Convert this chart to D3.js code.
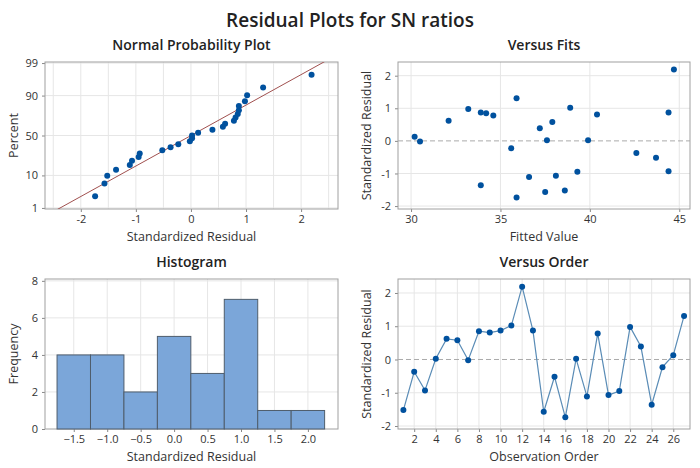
<!DOCTYPE html>
<html>
<head>
<meta charset="utf-8">
<script src="https://cdn.jsdelivr.net/npm/d3@7"></script>
<style>
  body { margin: 0; background: #fff; }
  text { font-family: "Open Sans", "Noto Sans", sans-serif; fill: #333; }
  .tick text { font-size: 11px; fill: #333; }
  .axis-title { font-size: 12.5px; fill: #333; }
  .panel-title { font-size: 14px; font-weight: 600; fill: #222; }
</style>
</head>
<body>
<div id="chart"></div>
<script>
// standardized residuals, in observation order 1..27
var residuals = [-1.52, -0.37, -0.93, 0.02, 0.62, 0.58, -0.02, 0.85, 0.81, 0.87,
                 1.02, 2.19, 0.87, -1.57, -0.52, -1.74, 0.02, -1.11, 0.78, -1.07,
                 -0.95, 0.98, 0.39, -1.36, -0.23, 0.13, 1.31];
// fitted values, same order
var fitted = [38.6, 42.6, 44.4, 37.6, 32.1, 37.9, 30.5, 34.2, 40.4, 44.4,
              38.9, 44.7, 33.9, 37.5, 43.7, 35.9, 39.9, 36.6, 34.6, 38.1,
              39.3, 33.2, 37.2, 33.9, 35.6, 30.2, 35.9];
var percentTicks = [1, 10, 50, 90, 99];
var histEdges = [-1.75, -1.25, -0.75, -0.25, 0.25, 0.75, 1.25, 1.75, 2.25];
var histTicks = [-1.5, -1.0, -0.5, 0.0, 0.5, 1.0, 1.5, 2.0];
var orderTicks = [2, 4, 6, 8, 10, 12, 14, 16, 18, 20, 22, 24, 26];

var svgWidth = 700;
var svgHeight = 468;
var dotColor = "#00519E";
var gridColor = "#e6e6e6";

var svg = d3.select("#chart")
    .append("svg")
    .attr("width", svgWidth)
    .attr("height", svgHeight);

// inverse normal cdf (Acklam)
function qnorm(p) {
    var a = [-3.969683028665376e+01, 2.209460984245205e+02, -2.759285104469687e+02, 1.383577518672690e+02, -3.066479806614716e+01, 2.506628277459239e+00];
    var b = [-5.447609879822406e+01, 1.615858368580409e+02, -1.556989798598866e+02, 6.680131188771972e+01, -1.328068155288572e+01];
    var c = [-7.784894002430293e-03, -3.223964580411365e-01, -2.400758277161838e+00, -2.549732539343734e+00, 4.374664141464968e+00, 2.938163982698783e+00];
    var d = [7.784695709041462e-03, 3.224671290700398e-01, 2.445134137142996e+00, 3.754408661907416e+00];
    var q, r;
    if (p < 0.02425) {
        q = Math.sqrt(-2 * Math.log(p));
        return (((((c[0]*q+c[1])*q+c[2])*q+c[3])*q+c[4])*q+c[5]) / ((((d[0]*q+d[1])*q+d[2])*q+d[3])*q+1);
    }
    if (p > 1 - 0.02425) {
        q = Math.sqrt(-2 * Math.log(1 - p));
        return -(((((c[0]*q+c[1])*q+c[2])*q+c[3])*q+c[4])*q+c[5]) / ((((d[0]*q+d[1])*q+d[2])*q+d[3])*q+1);
    }
    q = p - 0.5;
    r = q * q;
    return (((((a[0]*r+a[1])*r+a[2])*r+a[3])*r+a[4])*r+a[5])*q / (((((b[0]*r+b[1])*r+b[2])*r+b[3])*r+b[4])*r+1);
}

// draws frame, grid, axes and titles for one panel
function makePanel(box, xScale, yScale, xTicks, yTicks, opts) {
    var g = svg.append("g");
    var clipId = "clip" + Math.round(box.left) + "_" + Math.round(box.top);
    g.append("clipPath").attr("id", clipId)
        .append("rect")
        .attr("x", box.left).attr("y", box.top)
        .attr("width", box.right - box.left).attr("height", box.bottom - box.top);

    g.selectAll(".vgrid").data(opts.xGrid || xTicks).enter().append("line")
        .attr("x1", d => xScale(d)).attr("x2", d => xScale(d))
        .attr("y1", box.top).attr("y2", box.bottom)
        .attr("stroke", gridColor);
    g.selectAll(".hgrid").data(opts.yGrid || yTicks).enter().append("line")
        .attr("y1", d => yScale(d)).attr("y2", d => yScale(d))
        .attr("x1", box.left).attr("x2", box.right)
        .attr("stroke", gridColor);

    var xAxis = d3.axisBottom(xScale).tickValues(xTicks).tickSize(3).tickSizeOuter(0)
        .tickFormat(opts.xFormat || (d => d));
    var yAxis = d3.axisLeft(yScale).tickValues(yTicks).tickSize(3).tickSizeOuter(0)
        .tickFormat(opts.yFormat || (d => d));

    var xg = g.append("g").attr("transform", `translate(0, ${box.bottom})`).call(xAxis);
    var yg = g.append("g").attr("transform", `translate(${box.left}, 0)`).call(yAxis);
    [xg, yg].forEach(function(a) {
        a.select(".domain").remove();
        a.selectAll(".tick line").attr("stroke", "#888");
    });
    yg.selectAll(".tick text").attr("dx", "-1");

    g.append("rect")
        .attr("x", box.left).attr("y", box.top)
        .attr("width", box.right - box.left).attr("height", box.bottom - box.top)
        .attr("fill", "none").attr("stroke", "#a0a0a0");

    var cx = (box.left + box.right) / 2;
    g.append("text").attr("class", "panel-title")
        .attr("x", cx).attr("y", box.top - 12)
        .attr("text-anchor", "middle").text(opts.title);
    g.append("text").attr("class", "axis-title")
        .attr("x", cx).attr("y", box.bottom + 32)
        .attr("text-anchor", "middle").text(opts.xLabel);
    g.append("text").attr("class", "axis-title")
        .attr("transform", "rotate(-90)")
        .attr("x", -(box.top + box.bottom) / 2).attr("y", box.left - 27)
        .attr("text-anchor", "middle").text(opts.yLabel);

    return { g: g, clip: "url(#" + clipId + ")" };
}

// main title
svg.append("text")
    .attr("x", svgWidth / 2).attr("y", 27)
    .attr("text-anchor", "middle")
    .style("font-size", "19px").style("font-weight", 600).style("fill", "#222")
    .text("Residual Plots for SN ratios");

var boxes = {
    npp:   { left: 45,  right: 338, top: 62,  bottom: 209 },
    fits:  { left: 398, right: 690, top: 62,  bottom: 209 },
    hist:  { left: 45,  right: 338, top: 279, bottom: 429 },
    order: { left: 398, right: 690, top: 279, bottom: 429 }
};

// ---- Normal probability plot
var n = residuals.length;
var sorted = residuals.slice().sort((a, b) => a - b);
var nppPoints = sorted.map((r, i) => ({ r: r, z: qnorm((i + 1 - 0.3) / (n + 0.4)) }));
var mean = d3.mean(residuals);
var sd = d3.deviation(residuals);

var nx = d3.scaleLinear().domain([-2.65, 2.67]).range([boxes.npp.left, boxes.npp.right]);
var ny = d3.scaleLinear().domain([-2.36, 2.36]).range([boxes.npp.bottom, boxes.npp.top]);
var p1 = makePanel(boxes.npp, nx, ny, [-2, -1, 0, 1, 2], percentTicks.map(p => qnorm(p / 100)), {
    title: "Normal Probability Plot", xLabel: "Standardized Residual", yLabel: "Percent",
    xGrid: d3.range(-2.5, 2.51, 0.5),
    yFormat: function(d, i) { return percentTicks[i]; }
});
p1.g.append("line")
    .attr("clip-path", p1.clip)
    .attr("x1", nx(mean - 3 * sd)).attr("y1", ny(-3))
    .attr("x2", nx(mean + 3 * sd)).attr("y2", ny(3))
    .attr("stroke", "#a0504f").attr("stroke-width", 1);
p1.g.selectAll(".dot").data(nppPoints).enter().append("circle")
    .attr("cx", d => nx(d.r)).attr("cy", d => ny(d.z))
    .attr("r", 3).attr("fill", dotColor);

// ---- Versus fits
var fx = d3.scaleLinear().domain([29.27, 45.6]).range([boxes.fits.left, boxes.fits.right]);
var fy = d3.scaleLinear().domain([-2.09, 2.42]).range([boxes.fits.bottom, boxes.fits.top]);
var p2 = makePanel(boxes.fits, fx, fy, [30, 35, 40, 45], [-2, -1, 0, 1, 2], {
    title: "Versus Fits", xLabel: "Fitted Value", yLabel: "Standardized Residual",
    yGrid: [-2, -1, 1, 2]
});
p2.g.append("line")
    .attr("x1", boxes.fits.left).attr("x2", boxes.fits.right)
    .attr("y1", fy(0)).attr("y2", fy(0))
    .attr("stroke", "#aaa").attr("stroke-dasharray", "5,3");
p2.g.selectAll(".dot").data(residuals).enter().append("circle")
    .attr("cx", (d, i) => fx(fitted[i])).attr("cy", d => fy(d))
    .attr("r", 3).attr("fill", dotColor);

// ---- Histogram
var bins = d3.bin().domain([histEdges[0], histEdges[histEdges.length - 1]])
    .thresholds(histEdges.slice(1, -1))(residuals);
var hx = d3.scaleLinear().domain([-1.93, 2.45]).range([boxes.hist.left, boxes.hist.right]);
var hy = d3.scaleLinear().domain([0, 8.1]).range([boxes.hist.bottom, boxes.hist.top]);
var p3 = makePanel(boxes.hist, hx, hy, histTicks, [0, 2, 4, 6, 8], {
    title: "Histogram", xLabel: "Standardized Residual", yLabel: "Frequency",
    xFormat: d3.format(".1f"), yGrid: [2, 4, 6, 8]
});
p3.g.selectAll(".bar").data(bins).enter().append("rect")
    .attr("x", d => hx(d.x0)).attr("width", d => hx(d.x1) - hx(d.x0))
    .attr("y", d => hy(d.length)).attr("height", d => hy(0) - hy(d.length))
    .attr("fill", "#7BA6D9").attr("stroke", "#4f5d6c").attr("stroke-width", 1);

// ---- Versus order
var order = d3.range(1, n + 1);
var ox = d3.scaleLinear().domain([0.5, 27.55]).range([boxes.order.left, boxes.order.right]);
var oy = d3.scaleLinear().domain([-2.09, 2.42]).range([boxes.order.bottom, boxes.order.top]);
var p4 = makePanel(boxes.order, ox, oy, orderTicks, [-2, -1, 0, 1, 2], {
    title: "Versus Order", xLabel: "Observation Order", yLabel: "Standardized Residual",
    yGrid: [-2, -1, 1, 2]
});
p4.g.append("line")
    .attr("x1", boxes.order.left).attr("x2", boxes.order.right)
    .attr("y1", oy(0)).attr("y2", oy(0))
    .attr("stroke", "#aaa").attr("stroke-dasharray", "5,3");
p4.g.append("path")
    .datum(residuals)
    .attr("d", d3.line().x((d, i) => ox(order[i])).y(d => oy(d)))
    .attr("fill", "none").attr("stroke", "#5a8cb6").attr("stroke-width", 1.2);
p4.g.selectAll(".dot").data(residuals).enter().append("circle")
    .attr("cx", (d, i) => ox(order[i])).attr("cy", d => oy(d))
    .attr("r", 3).attr("fill", dotColor);
</script>
</body>
</html>
